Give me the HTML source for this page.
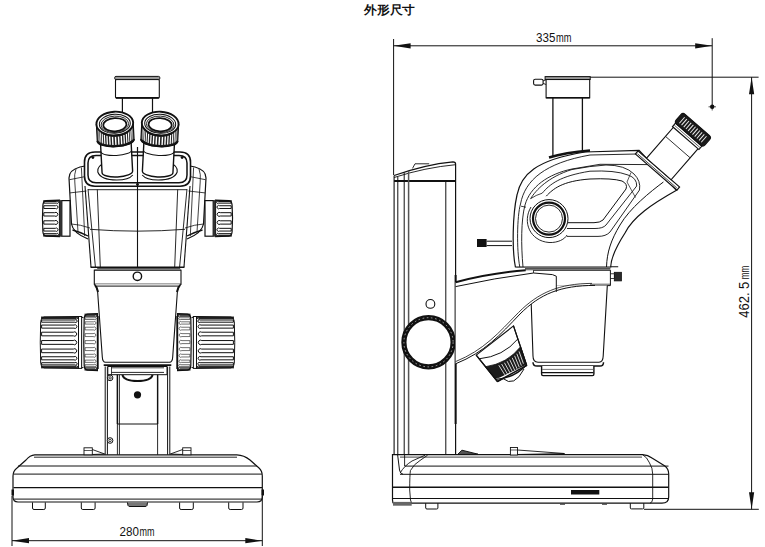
<!DOCTYPE html>
<html><head><meta charset="utf-8"><style>
html,body{margin:0;padding:0;background:#fff;width:765px;height:547px;overflow:hidden}
svg{display:block}
text{font-family:"Liberation Sans",sans-serif;fill:#111}
</style></head><body>
<svg width="765" height="547" viewBox="0 0 765 547">
<rect width="765" height="547" fill="#fff"/>
<rect x="115.5" y="79.4" width="43.8" height="18.5" rx="1" fill="#fff" stroke="#111" stroke-width="1.1"/>
<line x1="116.0" y1="97.9" x2="158.8" y2="97.9" stroke="#111" stroke-width="1.7"/>
<rect x="114.7" y="76.4" width="45.1" height="3.2" rx="1.2" fill="#999" stroke="#111" stroke-width="1.0"/>
<line x1="122.4" y1="97.9" x2="122.4" y2="112.0" stroke="#111" stroke-width="1.2"/>
<line x1="152.5" y1="97.9" x2="152.5" y2="112.0" stroke="#111" stroke-width="1.2"/>
<path d="M85,186 L91,267" fill="none" stroke="#111" stroke-width="1.1" />
<path d="M190,186 L184,267" fill="none" stroke="#111" stroke-width="1.1" />
<path d="M88,189 L95.4,267" fill="none" stroke="#111" stroke-width="0.9" />
<path d="M187,189 L179.6,267" fill="none" stroke="#111" stroke-width="0.9" />
<path d="M97.3,189.5 L100.3,267" fill="none" stroke="#111" stroke-width="0.9" />
<path d="M177.7,189.5 L174.7,267" fill="none" stroke="#111" stroke-width="0.9" />
<path d="M90,229.3 Q137.5,233 185,229.3" fill="none" stroke="#111" stroke-width="0.9" />
<line x1="88.0" y1="189.7" x2="187.0" y2="189.7" stroke="#111" stroke-width="0.9"/>
<line x1="90.5" y1="267.2" x2="184.5" y2="267.2" stroke="#111" stroke-width="1.6"/>
<line x1="137.5" y1="147.0" x2="137.5" y2="267.0" stroke="#111" stroke-width="1.1"/>
<path d="M85,166 L80,167 Q69,170 69,178 L71.5,224 Q73,233 88,239" fill="none" stroke="#111" stroke-width="1.2" />
<path d="M76,169 Q74,174 74.8,182 L78,232" fill="none" stroke="#111" stroke-width="0.8" />
<path d="M81.4,167.5 L84.7,236" fill="none" stroke="#111" stroke-width="0.8" />
<path d="M69.5,179.7 L85.5,176.5" fill="none" stroke="#111" stroke-width="0.8" />
<path d="M70,192.9 L86.5,191" fill="none" stroke="#111" stroke-width="0.8" />
<path d="M71.5,224 Q80,224.5 90,228" fill="none" stroke="#111" stroke-width="0.8" />
<path d="M72.5,230 Q80,232 88,236" fill="none" stroke="#111" stroke-width="1.3" />
<path d="M190,166 L195,167 Q206,170 206,178 L203.5,224 Q202,233 187,239" fill="none" stroke="#111" stroke-width="1.2" />
<path d="M199,169 Q201,174 200.2,182 L197,232" fill="none" stroke="#111" stroke-width="0.8" />
<path d="M193.6,167.5 L190.3,236" fill="none" stroke="#111" stroke-width="0.8" />
<path d="M205.5,179.7 L189.5,176.5" fill="none" stroke="#111" stroke-width="0.8" />
<path d="M205,192.9 L188.5,191" fill="none" stroke="#111" stroke-width="0.8" />
<path d="M203.5,224 Q195,224.5 185,228" fill="none" stroke="#111" stroke-width="0.8" />
<path d="M202.5,230 Q195,232 187,236" fill="none" stroke="#111" stroke-width="1.3" />
<path d="M95,152 L180,152 Q190.5,152 190.5,162 L190.5,176 Q190.5,186.2 180,186.2 L95,186.2 Q84.5,186.2 84.5,176 L84.5,162 Q84.5,152 95,152 Z" fill="#fff" stroke="#111" stroke-width="1.6" />
<path d="M96,155.5 L179,155.5 Q187,155.5 187,163 L187,175 Q187,182.8 179,182.8 L96,182.8 Q88,182.8 88,175 L88,163 Q88,155.5 96,155.5 Z" fill="none" stroke="#111" stroke-width="1.5" />
<circle cx="92.9" cy="157.6" r="1.4" fill="#111" stroke="#111" stroke-width="0"/>
<circle cx="182.1" cy="157.6" r="1.4" fill="#111" stroke="#111" stroke-width="0"/>
<line x1="137.5" y1="147.0" x2="137.5" y2="186.0" stroke="#111" stroke-width="1.1"/>
<circle cx="137.5" cy="184.5" r="1.4" fill="#111" stroke="#111" stroke-width="0"/>
<path d="M104.8,163 Q96.8,166 97.8,172 Q100.8,180 116.8,180 Q128.8,180 132.8,175" fill="none" stroke="#111" stroke-width="1.1" />
<g transform="rotate(-3,114.8,123.5)">
<path d="M99.5,140 L99.5,172 A15.3,5 0 0 0 130.1,172 L130.1,140 Z" fill="#fff" stroke="#111" stroke-width="1.4" />
<path d="M99.5,151 A15.3,4.5 0 0 0 130.1,151" fill="none" stroke="#111" stroke-width="1.0" />
<path d="M96.4,123.5 L96.4,140 A18.4,6.5 0 0 0 133.2,140 L133.2,123.5 Z" fill="#222" stroke="#111" stroke-width="1.2" />
<line x1="97.6" y1="127.7" x2="97.6" y2="139.8" stroke="#fff" stroke-width="0.4628080245116498"/>
<line x1="98.5" y1="129.6" x2="98.5" y2="140.9" stroke="#fff" stroke-width="0.6557225234658437"/>
<line x1="99.9" y1="131.4" x2="99.9" y2="141.8" stroke="#fff" stroke-width="0.8356903782850547"/>
<line x1="101.7" y1="132.9" x2="101.7" y2="142.7" stroke="#fff" stroke-width="0.99759887311236"/>
<line x1="103.8" y1="134.3" x2="103.8" y2="143.5" stroke="#fff" stroke-width="1.136848341358936"/>
<line x1="106.3" y1="135.4" x2="106.3" y2="144.1" stroke="#fff" stroke-width="1.24948283786398"/>
<line x1="109.0" y1="136.2" x2="109.0" y2="144.5" stroke="#fff" stroke-width="1.3323025235401367"/>
<line x1="111.8" y1="136.7" x2="111.8" y2="144.8" stroke="#fff" stroke-width="1.3829545697633876"/>
<line x1="114.8" y1="136.9" x2="114.8" y2="144.9" stroke="#fff" stroke-width="1.4"/>
<line x1="117.8" y1="136.7" x2="117.8" y2="144.8" stroke="#fff" stroke-width="1.3829545697633876"/>
<line x1="120.6" y1="136.2" x2="120.6" y2="144.5" stroke="#fff" stroke-width="1.3323025235401367"/>
<line x1="123.3" y1="135.4" x2="123.3" y2="144.1" stroke="#fff" stroke-width="1.24948283786398"/>
<line x1="125.8" y1="134.3" x2="125.8" y2="143.5" stroke="#fff" stroke-width="1.136848341358936"/>
<line x1="127.9" y1="132.9" x2="127.9" y2="142.7" stroke="#fff" stroke-width="0.99759887311236"/>
<line x1="129.7" y1="131.4" x2="129.7" y2="141.8" stroke="#fff" stroke-width="0.8356903782850547"/>
<line x1="131.1" y1="129.6" x2="131.1" y2="140.9" stroke="#fff" stroke-width="0.655722523465844"/>
<line x1="132.0" y1="127.7" x2="132.0" y2="139.8" stroke="#fff" stroke-width="0.4628080245116498"/>
<path d="M96.4,140 A18.4,6.5 0 0 0 133.2,140" fill="none" stroke="#111" stroke-width="1.8" />
<ellipse cx="114.8" cy="123.5" rx="18.4" ry="11.8" fill="#fff" stroke="#111" stroke-width="1.9"/>
<ellipse cx="114.8" cy="123.8" rx="15.5" ry="9.5" fill="none" stroke="#111" stroke-width="1.0"/>
<ellipse cx="114.8" cy="124.3" rx="13.8" ry="8.2" fill="none" stroke="#111" stroke-width="0.9"/>
<ellipse cx="114.8" cy="124.7" rx="11.6" ry="6.6" fill="none" stroke="#111" stroke-width="1.7"/>
</g>
<path d="M170.2,163 Q178.2,166 177.2,172 Q174.2,180 158.2,180 Q146.2,180 142.2,175" fill="none" stroke="#111" stroke-width="1.1" />
<g transform="rotate(3,160.2,123.5)">
<path d="M144.89999999999998,140 L144.89999999999998,172 A15.3,5 0 0 0 175.5,172 L175.5,140 Z" fill="#fff" stroke="#111" stroke-width="1.4" />
<path d="M144.89999999999998,151 A15.3,4.5 0 0 0 175.5,151" fill="none" stroke="#111" stroke-width="1.0" />
<path d="M141.79999999999998,123.5 L141.79999999999998,140 A18.4,6.5 0 0 0 178.6,140 L178.6,123.5 Z" fill="#222" stroke="#111" stroke-width="1.2" />
<line x1="143.0" y1="127.7" x2="143.0" y2="139.8" stroke="#fff" stroke-width="0.4628080245116498"/>
<line x1="143.9" y1="129.6" x2="143.9" y2="140.9" stroke="#fff" stroke-width="0.6557225234658437"/>
<line x1="145.3" y1="131.4" x2="145.3" y2="141.8" stroke="#fff" stroke-width="0.8356903782850547"/>
<line x1="147.1" y1="132.9" x2="147.1" y2="142.7" stroke="#fff" stroke-width="0.99759887311236"/>
<line x1="149.2" y1="134.3" x2="149.2" y2="143.5" stroke="#fff" stroke-width="1.136848341358936"/>
<line x1="151.7" y1="135.4" x2="151.7" y2="144.1" stroke="#fff" stroke-width="1.24948283786398"/>
<line x1="154.4" y1="136.2" x2="154.4" y2="144.5" stroke="#fff" stroke-width="1.3323025235401367"/>
<line x1="157.2" y1="136.7" x2="157.2" y2="144.8" stroke="#fff" stroke-width="1.3829545697633876"/>
<line x1="160.2" y1="136.9" x2="160.2" y2="144.9" stroke="#fff" stroke-width="1.4"/>
<line x1="163.2" y1="136.7" x2="163.2" y2="144.8" stroke="#fff" stroke-width="1.3829545697633876"/>
<line x1="166.0" y1="136.2" x2="166.0" y2="144.5" stroke="#fff" stroke-width="1.3323025235401367"/>
<line x1="168.7" y1="135.4" x2="168.7" y2="144.1" stroke="#fff" stroke-width="1.24948283786398"/>
<line x1="171.2" y1="134.3" x2="171.2" y2="143.5" stroke="#fff" stroke-width="1.136848341358936"/>
<line x1="173.3" y1="132.9" x2="173.3" y2="142.7" stroke="#fff" stroke-width="0.99759887311236"/>
<line x1="175.1" y1="131.4" x2="175.1" y2="141.8" stroke="#fff" stroke-width="0.8356903782850547"/>
<line x1="176.5" y1="129.6" x2="176.5" y2="140.9" stroke="#fff" stroke-width="0.655722523465844"/>
<line x1="177.4" y1="127.7" x2="177.4" y2="139.8" stroke="#fff" stroke-width="0.4628080245116498"/>
<path d="M141.79999999999998,140 A18.4,6.5 0 0 0 178.6,140" fill="none" stroke="#111" stroke-width="1.8" />
<ellipse cx="160.2" cy="123.5" rx="18.4" ry="11.8" fill="#fff" stroke="#111" stroke-width="1.9"/>
<ellipse cx="160.2" cy="123.8" rx="15.5" ry="9.5" fill="none" stroke="#111" stroke-width="1.0"/>
<ellipse cx="160.2" cy="124.3" rx="13.8" ry="8.2" fill="none" stroke="#111" stroke-width="0.9"/>
<ellipse cx="160.2" cy="124.7" rx="11.6" ry="6.6" fill="none" stroke="#111" stroke-width="1.7"/>
</g>
<rect x="42.20" y="199.10" width="18.30" height="38.60" fill="#fff"/>
<rect x="43.20" y="200.10" width="16.30" height="1.80" fill="#3a3a3a"/>
<rect x="43.20" y="234.90" width="16.30" height="1.80" fill="#3a3a3a"/>
<path d="M43.80,201.55 L56.52,201.55 A1.09,1.09 0 1 1 56.52,203.13 L43.80,203.13 Z" fill="#fff" stroke="#111" stroke-width="1.0" />
<path d="M43.80,205.74 L55.37,205.74 A1.67,1.67 0 1 1 55.37,208.47 L43.80,208.47 Z" fill="#fff" stroke="#111" stroke-width="1.0" />
<path d="M43.80,212.68 L54.71,212.68 A1.99,1.99 0 1 1 54.71,216.00 L43.80,216.00 Z" fill="#fff" stroke="#111" stroke-width="1.0" />
<path d="M43.80,220.80 L54.71,220.80 A1.99,1.99 0 1 1 54.71,224.12 L43.80,224.12 Z" fill="#fff" stroke="#111" stroke-width="1.0" />
<path d="M43.80,228.33 L55.37,228.33 A1.67,1.67 0 1 1 55.37,231.06 L43.80,231.06 Z" fill="#fff" stroke="#111" stroke-width="1.0" />
<path d="M43.80,233.67 L56.52,233.67 A1.09,1.09 0 1 1 56.52,235.25 L43.80,235.25 Z" fill="#fff" stroke="#111" stroke-width="1.0" />
<path d="M59.50,200.10 L46.20,200.60 Q43.20,201.10 42.90,205.10 Q42.00,218.40 42.90,231.70 Q43.20,235.70 46.20,236.20 L59.50,236.70 Z" fill="none" stroke="#111" stroke-width="1.2"/>
<rect x="59.5" y="200.1" width="2.0" height="36.6" rx="0" fill="#333" stroke="#111" stroke-width="0"/>
<rect x="61.8" y="200.6" width="8.2" height="35.6" rx="0" fill="#fff" stroke="#111" stroke-width="1.2"/>
<rect x="40.00" y="315.50" width="39.50" height="53.90" fill="#fff"/>
<rect x="41.00" y="316.50" width="37.50" height="2.20" fill="#3a3a3a"/>
<rect x="41.00" y="366.20" width="37.50" height="2.20" fill="#3a3a3a"/>
<path d="M41.60,317.70 L76.16,317.70 A0.77,0.77 0 1 1 76.16,318.64 L41.60,318.64 Z" fill="#fff" stroke="#111" stroke-width="1.0" />
<path d="M41.60,320.01 L74.92,320.01 A1.39,1.39 0 1 1 74.92,322.19 L41.60,322.19 Z" fill="#fff" stroke="#111" stroke-width="1.0" />
<path d="M41.60,325.07 L74.02,325.07 A1.84,1.84 0 1 1 74.02,328.14 L41.60,328.14 Z" fill="#fff" stroke="#111" stroke-width="1.0" />
<path d="M41.60,332.21 L73.36,332.21 A2.17,2.17 0 1 1 73.36,335.83 L41.60,335.83 Z" fill="#fff" stroke="#111" stroke-width="1.0" />
<path d="M41.60,340.55 L73.14,340.55 A2.28,2.28 0 1 1 73.14,344.35 L41.60,344.35 Z" fill="#fff" stroke="#111" stroke-width="1.0" />
<path d="M41.60,349.07 L73.36,349.07 A2.17,2.17 0 1 1 73.36,352.69 L41.60,352.69 Z" fill="#fff" stroke="#111" stroke-width="1.0" />
<path d="M41.60,356.76 L74.02,356.76 A1.84,1.84 0 1 1 74.02,359.83 L41.60,359.83 Z" fill="#fff" stroke="#111" stroke-width="1.0" />
<path d="M41.60,362.71 L74.92,362.71 A1.39,1.39 0 1 1 74.92,364.89 L41.60,364.89 Z" fill="#fff" stroke="#111" stroke-width="1.0" />
<path d="M41.60,366.26 L76.16,366.26 A0.77,0.77 0 1 1 76.16,367.20 L41.60,367.20 Z" fill="#fff" stroke="#111" stroke-width="1.0" />
<path d="M78.50,316.50 L44.00,317.00 Q41.00,317.50 40.70,321.50 Q39.80,342.45 40.70,363.40 Q41.00,367.40 44.00,367.90 L78.50,368.40 Z" fill="none" stroke="#111" stroke-width="1.0"/>
<rect x="78.5" y="316.5" width="3.2" height="51.9" rx="0" fill="#fff" stroke="#111" stroke-width="1.0"/>
<rect x="81.7" y="317.5" width="2.8" height="50.0" rx="0" fill="#fff" stroke="#111" stroke-width="0.9"/>
<rect x="83.50" y="312.60" width="14.90" height="59.00" fill="#fff"/>
<rect x="84.50" y="313.60" width="12.90" height="3.20" fill="#3a3a3a"/>
<rect x="84.50" y="367.40" width="12.90" height="3.20" fill="#3a3a3a"/>
<path d="M85.10,315.44 L94.98,315.44 A0.81,0.81 0 1 1 94.98,316.46 L85.10,316.46 Z" fill="#fff" stroke="#111" stroke-width="0.6" />
<path d="M85.10,317.79 L94.28,317.79 A1.16,1.16 0 1 1 94.28,319.51 L85.10,319.51 Z" fill="#fff" stroke="#111" stroke-width="0.6" />
<path d="M85.10,321.82 L93.73,321.82 A1.44,1.44 0 1 1 93.73,324.09 L85.10,324.09 Z" fill="#fff" stroke="#111" stroke-width="0.6" />
<path d="M85.10,327.23 L93.33,327.23 A1.64,1.64 0 1 1 93.33,329.90 L85.10,329.90 Z" fill="#fff" stroke="#111" stroke-width="0.6" />
<path d="M85.10,333.63 L93.08,333.63 A1.76,1.76 0 1 1 93.08,336.55 L85.10,336.55 Z" fill="#fff" stroke="#111" stroke-width="0.6" />
<path d="M85.10,340.60 L93.00,340.60 A1.80,1.80 0 1 1 93.00,343.60 L85.10,343.60 Z" fill="#fff" stroke="#111" stroke-width="0.6" />
<path d="M85.10,347.65 L93.08,347.65 A1.76,1.76 0 1 1 93.08,350.57 L85.10,350.57 Z" fill="#fff" stroke="#111" stroke-width="0.6" />
<path d="M85.10,354.30 L93.33,354.30 A1.64,1.64 0 1 1 93.33,356.97 L85.10,356.97 Z" fill="#fff" stroke="#111" stroke-width="0.6" />
<path d="M85.10,360.11 L93.73,360.11 A1.44,1.44 0 1 1 93.73,362.38 L85.10,362.38 Z" fill="#fff" stroke="#111" stroke-width="0.6" />
<path d="M85.10,364.69 L94.28,364.69 A1.16,1.16 0 1 1 94.28,366.41 L85.10,366.41 Z" fill="#fff" stroke="#111" stroke-width="0.6" />
<path d="M85.10,367.74 L94.98,367.74 A0.81,0.81 0 1 1 94.98,368.76 L85.10,368.76 Z" fill="#fff" stroke="#111" stroke-width="0.6" />
<path d="M97.40,313.60 L87.50,314.10 Q84.50,314.60 84.20,318.60 Q83.30,342.10 84.20,365.60 Q84.50,369.60 87.50,370.10 L97.40,370.60 Z" fill="none" stroke="#111" stroke-width="1.2"/>
<line x1="98.2" y1="316.0" x2="98.2" y2="369.0" stroke="#111" stroke-width="1.0"/>
<g transform="translate(275,0) scale(-1,1)">
<rect x="42.20" y="199.10" width="18.30" height="38.60" fill="#fff"/>
<rect x="43.20" y="200.10" width="16.30" height="1.80" fill="#3a3a3a"/>
<rect x="43.20" y="234.90" width="16.30" height="1.80" fill="#3a3a3a"/>
<path d="M43.80,201.55 L56.52,201.55 A1.09,1.09 0 1 1 56.52,203.13 L43.80,203.13 Z" fill="#fff" stroke="#111" stroke-width="1.0" />
<path d="M43.80,205.74 L55.37,205.74 A1.67,1.67 0 1 1 55.37,208.47 L43.80,208.47 Z" fill="#fff" stroke="#111" stroke-width="1.0" />
<path d="M43.80,212.68 L54.71,212.68 A1.99,1.99 0 1 1 54.71,216.00 L43.80,216.00 Z" fill="#fff" stroke="#111" stroke-width="1.0" />
<path d="M43.80,220.80 L54.71,220.80 A1.99,1.99 0 1 1 54.71,224.12 L43.80,224.12 Z" fill="#fff" stroke="#111" stroke-width="1.0" />
<path d="M43.80,228.33 L55.37,228.33 A1.67,1.67 0 1 1 55.37,231.06 L43.80,231.06 Z" fill="#fff" stroke="#111" stroke-width="1.0" />
<path d="M43.80,233.67 L56.52,233.67 A1.09,1.09 0 1 1 56.52,235.25 L43.80,235.25 Z" fill="#fff" stroke="#111" stroke-width="1.0" />
<path d="M59.50,200.10 L46.20,200.60 Q43.20,201.10 42.90,205.10 Q42.00,218.40 42.90,231.70 Q43.20,235.70 46.20,236.20 L59.50,236.70 Z" fill="none" stroke="#111" stroke-width="1.2"/>
<rect x="59.5" y="200.1" width="2.0" height="36.6" rx="0" fill="#333" stroke="#111" stroke-width="0"/>
<rect x="61.8" y="200.6" width="8.2" height="35.6" rx="0" fill="#fff" stroke="#111" stroke-width="1.2"/>
<rect x="40.00" y="315.50" width="39.50" height="53.90" fill="#fff"/>
<rect x="41.00" y="316.50" width="37.50" height="2.20" fill="#3a3a3a"/>
<rect x="41.00" y="366.20" width="37.50" height="2.20" fill="#3a3a3a"/>
<path d="M41.60,317.70 L76.16,317.70 A0.77,0.77 0 1 1 76.16,318.64 L41.60,318.64 Z" fill="#fff" stroke="#111" stroke-width="1.0" />
<path d="M41.60,320.01 L74.92,320.01 A1.39,1.39 0 1 1 74.92,322.19 L41.60,322.19 Z" fill="#fff" stroke="#111" stroke-width="1.0" />
<path d="M41.60,325.07 L74.02,325.07 A1.84,1.84 0 1 1 74.02,328.14 L41.60,328.14 Z" fill="#fff" stroke="#111" stroke-width="1.0" />
<path d="M41.60,332.21 L73.36,332.21 A2.17,2.17 0 1 1 73.36,335.83 L41.60,335.83 Z" fill="#fff" stroke="#111" stroke-width="1.0" />
<path d="M41.60,340.55 L73.14,340.55 A2.28,2.28 0 1 1 73.14,344.35 L41.60,344.35 Z" fill="#fff" stroke="#111" stroke-width="1.0" />
<path d="M41.60,349.07 L73.36,349.07 A2.17,2.17 0 1 1 73.36,352.69 L41.60,352.69 Z" fill="#fff" stroke="#111" stroke-width="1.0" />
<path d="M41.60,356.76 L74.02,356.76 A1.84,1.84 0 1 1 74.02,359.83 L41.60,359.83 Z" fill="#fff" stroke="#111" stroke-width="1.0" />
<path d="M41.60,362.71 L74.92,362.71 A1.39,1.39 0 1 1 74.92,364.89 L41.60,364.89 Z" fill="#fff" stroke="#111" stroke-width="1.0" />
<path d="M41.60,366.26 L76.16,366.26 A0.77,0.77 0 1 1 76.16,367.20 L41.60,367.20 Z" fill="#fff" stroke="#111" stroke-width="1.0" />
<path d="M78.50,316.50 L44.00,317.00 Q41.00,317.50 40.70,321.50 Q39.80,342.45 40.70,363.40 Q41.00,367.40 44.00,367.90 L78.50,368.40 Z" fill="none" stroke="#111" stroke-width="1.0"/>
<rect x="78.5" y="316.5" width="3.2" height="51.9" rx="0" fill="#fff" stroke="#111" stroke-width="1.0"/>
<rect x="81.7" y="317.5" width="2.8" height="50.0" rx="0" fill="#fff" stroke="#111" stroke-width="0.9"/>
<rect x="83.50" y="312.60" width="14.90" height="59.00" fill="#fff"/>
<rect x="84.50" y="313.60" width="12.90" height="3.20" fill="#3a3a3a"/>
<rect x="84.50" y="367.40" width="12.90" height="3.20" fill="#3a3a3a"/>
<path d="M85.10,315.44 L94.98,315.44 A0.81,0.81 0 1 1 94.98,316.46 L85.10,316.46 Z" fill="#fff" stroke="#111" stroke-width="0.6" />
<path d="M85.10,317.79 L94.28,317.79 A1.16,1.16 0 1 1 94.28,319.51 L85.10,319.51 Z" fill="#fff" stroke="#111" stroke-width="0.6" />
<path d="M85.10,321.82 L93.73,321.82 A1.44,1.44 0 1 1 93.73,324.09 L85.10,324.09 Z" fill="#fff" stroke="#111" stroke-width="0.6" />
<path d="M85.10,327.23 L93.33,327.23 A1.64,1.64 0 1 1 93.33,329.90 L85.10,329.90 Z" fill="#fff" stroke="#111" stroke-width="0.6" />
<path d="M85.10,333.63 L93.08,333.63 A1.76,1.76 0 1 1 93.08,336.55 L85.10,336.55 Z" fill="#fff" stroke="#111" stroke-width="0.6" />
<path d="M85.10,340.60 L93.00,340.60 A1.80,1.80 0 1 1 93.00,343.60 L85.10,343.60 Z" fill="#fff" stroke="#111" stroke-width="0.6" />
<path d="M85.10,347.65 L93.08,347.65 A1.76,1.76 0 1 1 93.08,350.57 L85.10,350.57 Z" fill="#fff" stroke="#111" stroke-width="0.6" />
<path d="M85.10,354.30 L93.33,354.30 A1.64,1.64 0 1 1 93.33,356.97 L85.10,356.97 Z" fill="#fff" stroke="#111" stroke-width="0.6" />
<path d="M85.10,360.11 L93.73,360.11 A1.44,1.44 0 1 1 93.73,362.38 L85.10,362.38 Z" fill="#fff" stroke="#111" stroke-width="0.6" />
<path d="M85.10,364.69 L94.28,364.69 A1.16,1.16 0 1 1 94.28,366.41 L85.10,366.41 Z" fill="#fff" stroke="#111" stroke-width="0.6" />
<path d="M85.10,367.74 L94.98,367.74 A0.81,0.81 0 1 1 94.98,368.76 L85.10,368.76 Z" fill="#fff" stroke="#111" stroke-width="0.6" />
<path d="M97.40,313.60 L87.50,314.10 Q84.50,314.60 84.20,318.60 Q83.30,342.10 84.20,365.60 Q84.50,369.60 87.50,370.10 L97.40,370.60 Z" fill="none" stroke="#111" stroke-width="1.2"/>
<line x1="98.2" y1="316.0" x2="98.2" y2="369.0" stroke="#111" stroke-width="1.0"/>
</g>
<line x1="97.2" y1="268.3" x2="180.2" y2="268.3" stroke="#111" stroke-width="0.9"/>
<line x1="94.3" y1="270.2" x2="181.0" y2="270.2" stroke="#111" stroke-width="1.0"/>
<rect x="94.3" y="270.2" width="86.7" height="14.0" rx="0" fill="#fff" stroke="#111" stroke-width="1.1"/>
<circle cx="137.4" cy="276.3" r="4.2" fill="none" stroke="#111" stroke-width="1.4"/>
<path d="M94.3,284.2 Q96,286 97.5,290 L102.3,357 Q102.6,362.3 105.5,362.3 L169.5,362.3 Q172.4,362.3 172.7,357 L177.5,290 Q179,286 181,284.2" fill="#fff" stroke="#111" stroke-width="1.1" />
<line x1="97.0" y1="286.1" x2="178.0" y2="286.1" stroke="#111" stroke-width="1.0"/>
<path d="M95,285 Q97,287 98,292" fill="none" stroke="#111" stroke-width="2.0" />
<path d="M180,285 Q178,287 177,292" fill="none" stroke="#111" stroke-width="2.0" />
<line x1="103.7" y1="365.1" x2="171.3" y2="365.1" stroke="#111" stroke-width="1.6"/>
<line x1="105.2" y1="366.5" x2="105.2" y2="455.0" stroke="#111" stroke-width="1.0"/>
<line x1="107.4" y1="366.5" x2="107.4" y2="455.0" stroke="#111" stroke-width="1.0"/>
<line x1="169.8" y1="366.5" x2="169.8" y2="455.0" stroke="#111" stroke-width="1.0"/>
<line x1="167.6" y1="366.5" x2="167.6" y2="455.0" stroke="#111" stroke-width="1.0"/>
<line x1="117.4" y1="374.7" x2="117.4" y2="455.0" stroke="#111" stroke-width="0.9"/>
<line x1="119.4" y1="374.7" x2="119.4" y2="455.0" stroke="#111" stroke-width="0.9"/>
<line x1="157.6" y1="374.7" x2="157.6" y2="455.0" stroke="#111" stroke-width="0.9"/>
<path d="M107.8,366.5 L167,366.5 L167,374.7 L107.8,374.7 Z" fill="#fff" stroke="#111" stroke-width="1.0" />
<line x1="111.5" y1="367.8" x2="164.0" y2="367.8" stroke="#111" stroke-width="0.8"/>
<line x1="111.5" y1="372.4" x2="164.0" y2="372.4" stroke="#111" stroke-width="0.9"/>
<line x1="111.5" y1="366.5" x2="111.5" y2="374.7" stroke="#111" stroke-width="0.8"/>
<line x1="117.4" y1="374.7" x2="117.4" y2="424.0" stroke="#111" stroke-width="1.4"/>
<line x1="157.6" y1="374.7" x2="157.6" y2="424.0" stroke="#111" stroke-width="1.4"/>
<line x1="117.4" y1="424.0" x2="157.6" y2="424.0" stroke="#111" stroke-width="1.0"/>
<path d="M122.4,375 Q124,381 137.5,381 Q151,381 152.6,375" fill="none" stroke="#111" stroke-width="2.0" />
<circle cx="137.5" cy="394.8" r="3.6" fill="#111" stroke="#111" stroke-width="0"/>
<circle cx="110.1" cy="377.9" r="2.8" fill="#fff" stroke="#111" stroke-width="1.0"/>
<circle cx="110.1" cy="377.9" r="1.2" fill="none" stroke="#111" stroke-width="0.8"/>
<circle cx="110.1" cy="440.5" r="2.8" fill="#fff" stroke="#111" stroke-width="1.0"/>
<circle cx="110.1" cy="440.5" r="1.2" fill="none" stroke="#111" stroke-width="0.8"/>
<path d="M34.8,454.8 L236.8,454.8 Q244,455 250,460 L259,468 Q262.3,471 262.3,476 L262.3,497 Q262.3,502 257,502 L18,502 Q13,502 13,497 L13,476 Q13,471 17,468 L26,460 Q30,455 34.8,454.8 Z" fill="#fff" stroke="#111" stroke-width="1.2" />
<line x1="34.0" y1="457.2" x2="237.0" y2="457.2" stroke="#111" stroke-width="0.9"/>
<line x1="18.0" y1="466.0" x2="257.0" y2="466.0" stroke="#111" stroke-width="1.0"/>
<line x1="13.5" y1="474.1" x2="262.0" y2="474.1" stroke="#111" stroke-width="1.0"/>
<line x1="13.5" y1="487.6" x2="262.0" y2="487.6" stroke="#111" stroke-width="1.4"/>
<line x1="13.5" y1="499.1" x2="262.0" y2="499.1" stroke="#111" stroke-width="1.0"/>
<rect x="11.5" y="489.5" width="2.5" height="6.0" rx="0" fill="#111" stroke="#111" stroke-width="0"/>
<rect x="261.5" y="489.5" width="2.5" height="6.0" rx="0" fill="#111" stroke="#111" stroke-width="0"/>
<path d="M32.5,502.4 L32.5,508 Q32.5,509.5 34.0,509.5 L43.8,509.5 Q45.3,509.5 45.3,508 L45.3,502.4" fill="none" stroke="#111" stroke-width="1.0" />
<path d="M81.3,502.4 L81.3,508 Q81.3,509.5 82.8,509.5 L93.6,509.5 Q95.1,509.5 95.1,508 L95.1,502.4" fill="none" stroke="#111" stroke-width="1.0" />
<path d="M179.6,502.4 L179.6,508 Q179.6,509.5 181.1,509.5 L191.8,509.5 Q193.3,509.5 193.3,508 L193.3,502.4" fill="none" stroke="#111" stroke-width="1.0" />
<path d="M228.7,502.4 L228.7,508 Q228.7,509.5 230.2,509.5 L241.5,509.5 Q243,509.5 243,508 L243,502.4" fill="none" stroke="#111" stroke-width="1.0" />
<path d="M127.4,502.4 L128,505.5 Q128.5,506.5 130,506.5 L145,506.5 Q146.5,506.5 147,505.5 L147.5,502.4" fill="#777" stroke="#111" stroke-width="1.0" />
<rect x="84.0" y="447.8" width="8.3" height="7.0" rx="0" fill="#fff" stroke="#111" stroke-width="0.9"/>
<line x1="84.0" y1="450.5" x2="92.3" y2="450.5" stroke="#111" stroke-width="0.7"/>
<rect x="182.7" y="447.8" width="8.3" height="7.0" rx="0" fill="#fff" stroke="#111" stroke-width="0.9"/>
<line x1="182.7" y1="450.5" x2="191.0" y2="450.5" stroke="#111" stroke-width="0.7"/>
<path d="M92.3,449.5 L104.7,454 L92.3,454.5" fill="none" stroke="#111" stroke-width="0.9" />
<path d="M182.7,449.5 L170.3,454 L182.7,454.5" fill="none" stroke="#111" stroke-width="0.9" />
<line x1="12.0" y1="496.0" x2="12.0" y2="546.0" stroke="#111" stroke-width="1.0"/>
<line x1="262.3" y1="496.0" x2="262.3" y2="546.0" stroke="#111" stroke-width="1.0"/>
<line x1="12.0" y1="540.7" x2="262.3" y2="540.7" stroke="#111" stroke-width="1.0"/>
<path d="M12.0,540.7 L29.0,538.1 L29.0,543.3 Z" fill="#111" stroke="none"/>
<path d="M262.3,540.7 L245.3,543.3 L245.3,538.1 Z" fill="#111" stroke="none"/>
<line x1="393.6" y1="39.0" x2="393.6" y2="175.0" stroke="#111" stroke-width="1.0"/>
<line x1="712.2" y1="38.2" x2="712.2" y2="106.8" stroke="#111" stroke-width="1.0"/>
<line x1="393.6" y1="45.8" x2="712.2" y2="45.8" stroke="#111" stroke-width="1.0"/>
<path d="M393.6,45.8 L410.6,43.2 L410.6,48.4 Z" fill="#111" stroke="none"/>
<path d="M712.2,45.8 L695.2,48.4 L695.2,43.2 Z" fill="#111" stroke="none"/>
<circle cx="712.2" cy="106.8" r="2.2" fill="#111" stroke="#111" stroke-width="0"/>
<line x1="708.5" y1="106.8" x2="716.0" y2="106.8" stroke="#111" stroke-width="0.7"/>
<line x1="712.2" y1="106.8" x2="712.2" y2="110.5" stroke="#111" stroke-width="0.7"/>
<line x1="590.0" y1="77.2" x2="758.6" y2="77.2" stroke="#111" stroke-width="1.0"/>
<line x1="644.0" y1="509.3" x2="758.8" y2="509.3" stroke="#111" stroke-width="1.0"/>
<line x1="751.6" y1="77.2" x2="751.6" y2="509.3" stroke="#111" stroke-width="1.0"/>
<path d="M751.6,77.2 L754.2,94.2 L749.0,94.2 Z" fill="#111" stroke="none"/>
<path d="M751.6,509.3 L749.0,492.3 L754.2,492.3 Z" fill="#111" stroke="none"/>
<path d="M394.1,175.5 Q425,164.5 453,161.8 Q455.6,161.8 455.6,164 L455.6,455" fill="none" stroke="#111" stroke-width="1.2" />
<path d="M394.1,177.5 Q425,167.5 455.6,164.7" fill="none" stroke="#111" stroke-width="0.9" />
<path d="M412.5,168.4 L415,163.8 L429.2,163.8" fill="none" stroke="#111" stroke-width="0.9" />
<line x1="394.1" y1="180.9" x2="455.6" y2="180.9" stroke="#111" stroke-width="2.0"/>
<line x1="394.1" y1="175.5" x2="394.1" y2="455.0" stroke="#111" stroke-width="1.1"/>
<line x1="397.8" y1="177.0" x2="397.8" y2="455.0" stroke="#111" stroke-width="1.0"/>
<line x1="404.2" y1="172.5" x2="404.2" y2="455.0" stroke="#111" stroke-width="1.0"/>
<line x1="408.6" y1="171.0" x2="408.6" y2="455.0" stroke="#555" stroke-width="1.5"/>
<line x1="445.8" y1="180.9" x2="445.8" y2="455.0" stroke="#111" stroke-width="1.0"/>
<line x1="455.6" y1="275.0" x2="455.6" y2="424.0" stroke="#111" stroke-width="2.0"/>
<circle cx="428.5" cy="342.3" r="24.6" fill="#fff" stroke="#111" stroke-width="5.2"/>
<circle cx="428.5" cy="342.3" r="24.6" fill="none" stroke="#aaa" stroke-width="1.0" stroke-dasharray="1.6 2.6"/>
<circle cx="430.4" cy="303.9" r="4.4" fill="none" stroke="#111" stroke-width="1.1"/>
<path d="M392.5,454.6 L642.5,454.6 Q648,455 652,458 L664.9,466.1 Q668.7,469 668.7,474 L668.7,497 Q668.7,503.2 662,503.2 L398,503.2 Q392.5,505.7 392.5,500 Z" fill="#fff" stroke="#111" stroke-width="1.2" />
<line x1="400.0" y1="457.1" x2="642.0" y2="457.1" stroke="#111" stroke-width="0.8"/>
<line x1="404.6" y1="466.1" x2="668.5" y2="466.1" stroke="#111" stroke-width="1.0"/>
<line x1="400.0" y1="474.3" x2="668.5" y2="474.3" stroke="#111" stroke-width="1.0"/>
<line x1="392.5" y1="487.2" x2="668.5" y2="487.2" stroke="#111" stroke-width="1.5"/>
<line x1="392.5" y1="498.5" x2="668.5" y2="498.5" stroke="#111" stroke-width="1.0"/>
<path d="M397.6,454.6 L399.5,470 Q400,473.5 403,474.3" fill="none" stroke="#111" stroke-width="1.0" />
<line x1="404.6" y1="454.6" x2="404.6" y2="466.1" stroke="#111" stroke-width="0.9"/>
<path d="M400.1,473.1 Q404,466 412,461 L425.1,455.2" fill="none" stroke="#111" stroke-width="0.9" />
<path d="M410.4,470.6 Q414,464 420,460.5 L427.6,455.2" fill="none" stroke="#111" stroke-width="0.9" />
<path d="M410.4,470.6 Q409.7,475 409.7,490 L410.5,500 Q411.5,503 411.7,503.2" fill="none" stroke="#111" stroke-width="0.9" />
<path d="M642.5,454.6 Q647,457 649.5,462.9 Q652.7,468 652.7,474 L652.7,499 Q652.5,502.5 650,503.2" fill="none" stroke="#111" stroke-width="0.9" />
<rect x="571.0" y="490.0" width="28.3" height="4.5" rx="0" fill="#111" stroke="#111" stroke-width="0"/>
<rect x="393.0" y="501.9" width="18.7" height="3.8" rx="0" fill="#666" stroke="#111" stroke-width="0"/>
<path d="M425.7,503.2 L425.7,508 Q425.7,509 427,509 L436.6,509 Q437.9,509 437.9,508 L437.9,503.2" fill="none" stroke="#111" stroke-width="1.0" />
<path d="M630.3,503.2 L630.3,508 Q630.3,508.9 631.5,508.9 L642.6,508.9 Q643.8,508.9 643.8,508 L643.8,503.2" fill="none" stroke="#111" stroke-width="1.0" />
<rect x="560.0" y="503.2" width="5.0" height="1.6" rx="0" fill="#444" stroke="#111" stroke-width="0"/>
<rect x="602.0" y="503.2" width="5.0" height="1.6" rx="0" fill="#444" stroke="#111" stroke-width="0"/>
<rect x="510.4" y="447.5" width="7.1" height="7.5" rx="0" fill="#fff" stroke="#111" stroke-width="0.9"/>
<line x1="510.4" y1="450.0" x2="517.5" y2="450.0" stroke="#111" stroke-width="0.7"/>
<path d="M517.5,450 L564.5,453.5 L517.5,454.5" fill="none" stroke="#111" stroke-width="0.9" />
<path d="M457.6,454.5 L461.9,450.2 L478,454.2 Z" fill="#555" stroke="#111" stroke-width="1.0" />
<line x1="516.3" y1="266.8" x2="618.2" y2="266.8" stroke="#111" stroke-width="1.1"/>
<line x1="525.0" y1="268.6" x2="610.4" y2="268.6" stroke="#111" stroke-width="0.8"/>
<line x1="525.0" y1="270.2" x2="610.4" y2="270.2" stroke="#111" stroke-width="1.0"/>
<path d="M525,270.2 L610.4,270.2 L610.4,285.6 L527,285.6" fill="#fff" stroke="#111" stroke-width="1.0" />
<line x1="590.0" y1="284.2" x2="610.4" y2="284.2" stroke="#111" stroke-width="0.7"/>
<rect x="610.4" y="273.8" width="4.1" height="4.7" rx="0" fill="#fff" stroke="#111" stroke-width="0.8"/>
<rect x="614.3" y="272.3" width="7.1" height="8.6" rx="0" fill="#2a2a2a" stroke="#111" stroke-width="0.8"/>
<path d="M530.6,285.6 L533,356 Q533,362.2 538,362.2 L599,362.2 Q603,362.2 603.2,356 L607.3,285.6" fill="#fff" stroke="#111" stroke-width="1.1" />
<path d="M533,362.2 Q533,366.1 537,366.1 L600,366.1 Q603.5,366.1 603.5,362.2" fill="none" stroke="#111" stroke-width="1.5" />
<path d="M541.6,366.1 L541.6,374 Q541.6,375.6 543,375.6 L592.5,375.6 Q593.9,375.6 593.9,374 L593.9,366.1" fill="#fff" stroke="#111" stroke-width="1.4" />
<line x1="542.0" y1="369.4" x2="593.5" y2="369.4" stroke="#666" stroke-width="0.9"/>
<line x1="542.0" y1="372.7" x2="593.5" y2="372.7" stroke="#111" stroke-width="1.2"/>
<path d="M455.6,282.2 Q490,273 525.7,270.2 L533.5,270.2 L533.5,273 L552.4,274.6 L556.3,276.2 L556.3,285.6 L595,285.6 C560,285.5 540,294 520,314 C500,335 485,352 455.6,363.8 Z" fill="#fff" stroke="#111" stroke-width="0" />
<path d="M455.6,282.2 Q490,273 525.7,270.2" fill="none" stroke="#111" stroke-width="2.0" />
<path d="M455.6,286.6 Q495,278 533.5,273 L552.4,274.6 L556.3,276.2 L556.3,291.9" fill="none" stroke="#111" stroke-width="1.0" />
<line x1="533.5" y1="270.2" x2="533.5" y2="273.0" stroke="#111" stroke-width="0.8"/>
<path d="M455.6,363.8 C485,352 500,335 520,314 C540,294 560,285.5 595,285.4" fill="none" stroke="#111" stroke-width="1.0" />
<path d="M455.6,361.6 C484,350 498.5,333 518.5,312.5 C538.5,292.5 559,283.6 592,283.4" fill="none" stroke="#111" stroke-width="0.8" />
<path d="M476.20,355.10 L513.50,325.90 L526.70,365.40 L497.40,381.50 Z" fill="#fff" stroke="#111" stroke-width="1.2" />
<path d="M503,378.5 Q514,388 524,369" fill="#fff" stroke="#111" stroke-width="1.0" />
<path d="M479.17,358.80 Q503.28,356.52 517.86,338.94" fill="none" stroke="#111" stroke-width="1.0" />
<path d="M485.53,366.72 Q507.25,363.58 520.50,346.83 L526.17,363.82 Q514.22,377.03 494.86,378.33 Z" fill="#1c1c1c" stroke="#111" stroke-width="0.8" />
<line x1="498.8" y1="365.2" x2="504.8" y2="374.8" stroke="#e8e8e8" stroke-width="0.9"/>
<line x1="501.6" y1="364.0" x2="507.4" y2="373.9" stroke="#e8e8e8" stroke-width="0.9"/>
<line x1="504.4" y1="362.7" x2="510.0" y2="372.9" stroke="#e8e8e8" stroke-width="0.9"/>
<line x1="507.1" y1="361.2" x2="512.4" y2="371.7" stroke="#e8e8e8" stroke-width="0.9"/>
<line x1="509.7" y1="359.6" x2="514.8" y2="370.4" stroke="#e8e8e8" stroke-width="0.9"/>
<line x1="512.2" y1="357.8" x2="517.1" y2="368.9" stroke="#e8e8e8" stroke-width="0.9"/>
<line x1="514.6" y1="355.8" x2="519.3" y2="367.3" stroke="#e8e8e8" stroke-width="0.9"/>
<line x1="516.8" y1="353.7" x2="521.4" y2="365.6" stroke="#e8e8e8" stroke-width="0.9"/>
<line x1="519.0" y1="351.4" x2="523.4" y2="363.7" stroke="#e8e8e8" stroke-width="0.9"/>
<path d="M495.70,379.39 Q514.81,378.05 526.50,364.81" fill="#fff" stroke="#111" stroke-width="1.4" />
<path d="M497.40,381.50 L526.70,365.40" fill="none" stroke="#111" stroke-width="1.6" />
<path d="M476.20,355.10 L497.40,381.50" fill="none" stroke="#111" stroke-width="1.2" />
<path d="M513.50,325.90 L526.70,365.40" fill="none" stroke="#111" stroke-width="1.2" />
<rect x="477.0" y="239.0" width="9.6" height="8.0" rx="0" fill="#111" stroke="#111" stroke-width="0"/>
<line x1="486.6" y1="241.2" x2="512.0" y2="241.2" stroke="#111" stroke-width="1.0"/>
<line x1="486.6" y1="245.6" x2="512.0" y2="245.6" stroke="#111" stroke-width="1.0"/>
<path d="M515.4,267 C512,250 512.5,215 517,195 C521,175 535,160 585,152 L639.1,150.4 L676.5,190.3 C652,204 633,217 625,233 C616,247 611,257 610.7,267 Z" fill="#fff" stroke="#111" stroke-width="1.2" />
<path d="M519.8,267 C516.5,250 517,216 520.5,204 C525,180 545,163 590,155 L637,154" fill="none" stroke="#111" stroke-width="0.9" />
<path d="M663.4,182 C650,192 630,208 620,225 C611,240 607,252 606.5,267" fill="none" stroke="#111" stroke-width="1.0" />
<path d="M523,267 C521,245 521,220 525,205 C530,187 548,174 572,169 L600,164.3 L649,164.6" fill="none" stroke="#111" stroke-width="0.9" />
<path d="M530.6,198.7 C536,190 548,177 572,169.5 Q590,166 606,165 Q625,165 634,174 Q641,181 639.5,190 L610,232 Q606,236.4 598,236.4 L567,236.4" fill="none" stroke="#111" stroke-width="0.9" />
<path d="M542.2,193.2 C550,184 560,176 590,171.2 Q615,170 628,175 Q637,178 636.7,186 L606,225 Q603,228.5 595,228.5 L567,228.5" fill="none" stroke="#111" stroke-width="0.9" />
<path d="M546.2,196.2 C553,189 562,181 590,179 Q612,178 622,181 Q628,184 626,189 L603,220 Q600,222.7 594,222.7 L566,222.7" fill="none" stroke="#111" stroke-width="1.0" />
<path d="M521,206.2 L526,207.2" fill="none" stroke="#111" stroke-width="0.8" />
<path d="M530.6,198.7 Q536,195 542.2,193.2" fill="none" stroke="#111" stroke-width="0.8" />
<path d="M631,172.5 L627,182 L635.5,197.5" fill="none" stroke="#111" stroke-width="0.7" />
<path d="M531,207 C522,222 530,241 549,242.5 C558,243 565,239 567,235" fill="none" stroke="#111" stroke-width="0.9" />
<circle cx="549.0" cy="218.6" r="19.0" fill="#fff" stroke="#111" stroke-width="1.0"/>
<circle cx="549.0" cy="218.6" r="16.0" fill="none" stroke="#111" stroke-width="2.2"/>
<circle cx="549.0" cy="218.6" r="13.5" fill="none" stroke="#111" stroke-width="0.9"/>
<rect x="546.1" y="79.5" width="43.6" height="18.3" rx="0" fill="#fff" stroke="#111" stroke-width="1.1"/>
<line x1="546.1" y1="97.8" x2="589.7" y2="97.8" stroke="#111" stroke-width="1.6"/>
<rect x="545.1" y="76.6" width="45.1" height="2.9" rx="0" fill="#999" stroke="#111" stroke-width="1.0"/>
<rect x="533.6" y="79.2" width="9.5" height="5.9" rx="1.6" fill="#fff" stroke="#111" stroke-width="1.1"/>
<path d="M543.1,80.8 L546.1,79.8 M543.1,83.4 L546.1,84.5" fill="none" stroke="#111" stroke-width="0.9" />
<line x1="552.9" y1="97.8" x2="552.9" y2="156.0" stroke="#111" stroke-width="1.3"/>
<line x1="582.4" y1="97.8" x2="582.4" y2="152.0" stroke="#111" stroke-width="1.3"/>
<path d="M549,157.5 Q565,152.5 590,150.5" fill="none" stroke="#111" stroke-width="2.4" />
<g transform="translate(657.5,170.5) rotate(-49)">
<rect x="-2.0" y="-27.5" width="4.0" height="55.0" rx="0" fill="#fff" stroke="#111" stroke-width="1.2"/>
<line x1="-0.5" y1="-26.0" x2="-0.5" y2="26.0" stroke="#111" stroke-width="0.7"/>
<rect x="2.0" y="-16.3" width="43.0" height="32.6" rx="0" fill="#fff" stroke="#111" stroke-width="1.1"/>
<line x1="31.0" y1="-16.3" x2="31.0" y2="16.3" stroke="#111" stroke-width="0.8"/>
<rect x="43.0" y="-17.5" width="4.5" height="35.0" rx="0" fill="#fff" stroke="#111" stroke-width="1.2"/>
<line x1="45.2" y1="-17.0" x2="45.2" y2="17.0" stroke="#111" stroke-width="0.6"/>
<rect x="47.5" y="-19" width="13" height="38" rx="3" fill="#1a1a1a" stroke="#111" stroke-width="1.2"/>
<line x1="50.0" y1="-14.5" x2="58.0" y2="-14.5" stroke="#eee" stroke-width="1.0"/>
<line x1="50.0" y1="-11.6" x2="58.0" y2="-11.6" stroke="#eee" stroke-width="1.0"/>
<line x1="50.0" y1="-8.7" x2="58.0" y2="-8.7" stroke="#eee" stroke-width="1.0"/>
<line x1="50.0" y1="-5.8" x2="58.0" y2="-5.8" stroke="#eee" stroke-width="1.0"/>
<line x1="50.0" y1="-2.9" x2="58.0" y2="-2.9" stroke="#eee" stroke-width="1.0"/>
<line x1="50.0" y1="0.0" x2="58.0" y2="0.0" stroke="#eee" stroke-width="1.0"/>
<line x1="50.0" y1="2.9" x2="58.0" y2="2.9" stroke="#eee" stroke-width="1.0"/>
<line x1="50.0" y1="5.8" x2="58.0" y2="5.8" stroke="#eee" stroke-width="1.0"/>
<line x1="50.0" y1="8.7" x2="58.0" y2="8.7" stroke="#eee" stroke-width="1.0"/>
<line x1="50.0" y1="11.6" x2="58.0" y2="11.6" stroke="#eee" stroke-width="1.0"/>
<line x1="50.0" y1="14.5" x2="58.0" y2="14.5" stroke="#eee" stroke-width="1.0"/>
</g>
<text x="364" y="14.3" font-size="11.5" font-weight="bold" textLength="51" lengthAdjust="spacingAndGlyphs">外形尺寸</text>
<text x="536.1" y="41.6" font-size="12.6" textLength="19.4" lengthAdjust="spacingAndGlyphs">335</text>
<text x="556" y="41.6" font-size="12.6" textLength="15.4" lengthAdjust="spacingAndGlyphs">mm</text>
<text x="119.6" y="536.2" font-size="12.8" textLength="19.4" lengthAdjust="spacingAndGlyphs">280</text>
<text x="139.5" y="536.2" font-size="12.8" textLength="15" lengthAdjust="spacingAndGlyphs">mm</text>
<text transform="translate(748.7,317.7) rotate(-90)" x="0" y="0" font-size="14.4" textLength="36" lengthAdjust="spacingAndGlyphs">462. 5</text>
<text transform="translate(748.7,279.3) rotate(-90)" x="0" y="0" font-size="13.6" textLength="13.7" lengthAdjust="spacingAndGlyphs">mm</text>
</svg>
</body></html>
